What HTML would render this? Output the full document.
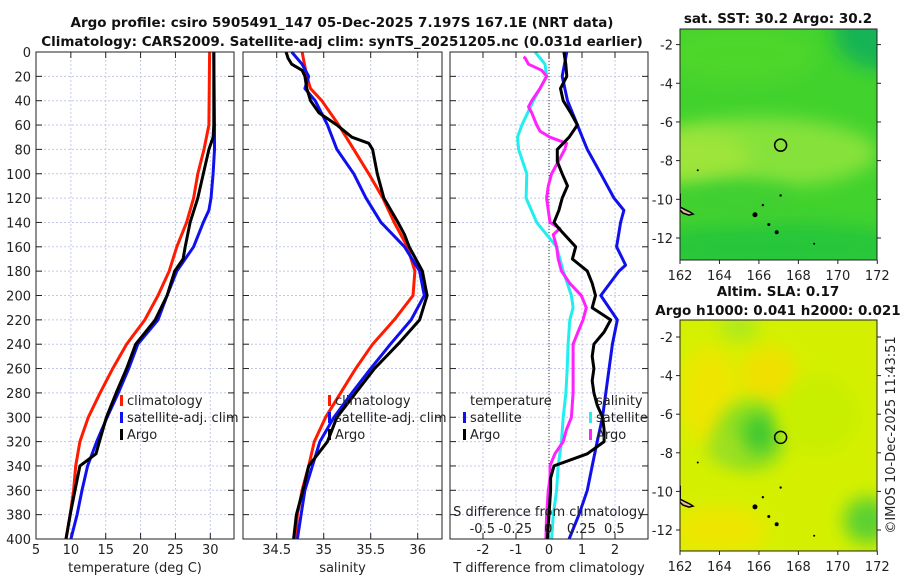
<!DOCTYPE html>
<html><head><meta charset="utf-8"><title>Argo profile</title>
<style>
html,body{margin:0;padding:0;background:#fff;}
svg{display:block;font-family:"DejaVu Sans","Liberation Sans",sans-serif;}
.t{font-size:13px;fill:#222;}
.b{font-size:13.5px;font-weight:bold;fill:#111;}
</style></head>
<body>
<svg id="fig" width="900" height="580" viewBox="0 0 900 580" xmlns="http://www.w3.org/2000/svg">
<defs>
<filter id="blur8" x="-50%" y="-50%" width="200%" height="200%"><feGaussianBlur stdDeviation="9"/></filter>
<clipPath id="clipMap1"><rect x="680" y="29" width="197" height="231"/></clipPath>
<clipPath id="clipMap2"><rect x="680" y="320" width="197" height="231"/></clipPath>
</defs>
<text class="b" x="342" y="27" text-anchor="middle">Argo profile: csiro 5905491_147 05-Dec-2025 7.197S 167.1E (NRT data)</text>
<text class="b" x="342" y="46" text-anchor="middle">Climatology: CARS2009. Satellite-adj clim: synTS_20251205.nc (0.031d earlier)</text>
<text class="b" x="778" y="23" text-anchor="middle">sat. SST: 30.2 Argo: 30.2</text>
<text class="b" x="778" y="296" text-anchor="middle">Altim. SLA: 0.17</text>
<text class="b" x="778" y="315" text-anchor="middle">Argo h1000: 0.041 h2000: 0.021</text>
<text class="t" x="0" y="0" transform="translate(895,435) rotate(-90)" text-anchor="middle">©IMOS 10-Dec-2025 11:43:51</text>
<g id="layer"></g>
</svg>
<script>
// ---------- data ----------
const depthTicks = [0,20,40,60,80,100,120,140,160,180,200,220,240,260,280,300,320,340,360,380,400];
const tempTicks = [5,10,15,20,25,30];
const salTicks = [34.5,35,35.5,36];
const salTickLabels = ["34.5","35","35.5","36"];
const tdiffTicks = [-2,-1,0,1,2];
const sdiffTicks = [-0.5,-0.25,0,0.25,0.5];
const sdiffLabels = ["-0.5","-0.25","0","0.25","0.5"];

const tClimDepth = [0,60,80,100,120,140,160,180,200,220,240,260,280,300,320,340,360,380,400];
const tClim = [29.9,29.8,29.1,28.2,27.6,26.6,25.2,24.1,22.5,20.6,18.0,16.0,14.2,12.5,11.3,10.7,10.4,9.9,9.3];
const tSatDepth = [0,60,80,100,120,130,140,160,180,200,220,240,260,280,300,320,340,360,380,400];
const tSat = [30.5,30.6,30.6,30.4,30.1,29.8,29.0,27.6,25.2,23.8,22.5,19.6,18.3,16.8,15.2,13.7,12.4,11.6,10.9,10.0];
const tArgoDepth = [0,60,70,80,100,120,140,160,170,180,200,220,240,260,280,300,320,330,340,360,380,400];
const tArgo = [30.5,30.5,30.4,29.8,29.0,28.2,27.1,26.4,26.1,24.9,23.8,22.1,19.3,18.0,16.5,15.1,14.1,13.6,11.3,10.6,9.9,9.3];

const sClimDepth = [0,20,30,40,60,80,100,120,140,160,180,200,220,240,260,280,300,320,340,360,380,400];
const sClim = [34.77,34.82,34.86,34.98,35.16,35.32,35.48,35.63,35.75,35.89,35.97,35.95,35.75,35.52,35.34,35.18,35.02,34.9,34.84,34.77,34.72,34.70];
const sSatDepth = [0,10,20,30,40,60,80,100,120,140,160,180,200,220,240,260,280,300,320,340,360,380,400];
const sSat = [34.66,34.77,34.84,34.80,34.91,35.04,35.14,35.32,35.45,35.61,35.86,36.02,36.07,35.93,35.71,35.5,35.3,35.11,34.96,34.88,34.80,34.76,34.72];
const sArgoDepth = [0,5,10,15,20,30,40,50,60,70,75,80,100,120,140,150,160,180,200,220,240,260,280,300,320,340,360,380,400];
const sArgo = [34.6,34.62,34.66,34.77,34.80,34.82,34.86,34.95,35.14,35.3,35.48,35.52,35.57,35.64,35.79,35.86,35.91,36.05,36.1,36.02,35.79,35.54,35.34,35.14,35.04,34.84,34.78,34.71,34.68];

const dTSatDepth = [0,20,40,60,70,80,100,120,130,140,160,175,180,200,220,240,260,280,300,320,340,360,380,400];
const dTSat = [0.54,0.40,0.56,0.86,1.01,1.16,1.57,1.97,2.27,2.17,2.05,2.32,2.12,1.57,2.07,1.92,1.82,1.72,1.62,1.46,1.31,1.16,0.91,0.61];
const dTArgoDepth = [0,10,20,30,40,50,60,70,80,90,100,110,120,130,140,145,160,170,180,190,200,210,220,230,240,250,260,270,280,290,300,310,320,330,340,350,360,380,400];
const dTArgo = [0.45,0.51,0.54,0.35,0.43,0.66,0.86,0.61,0.25,0.25,0.40,0.56,0.40,0.30,0.15,0.30,0.81,0.71,1.16,1.31,1.41,1.31,1.87,1.67,1.36,1.31,1.36,1.31,1.36,1.46,1.62,1.67,1.67,1.16,0.15,0.05,0.05,0,-0.05];
const dSSatDepth = [0,10,20,30,40,60,70,80,100,120,140,150,160,180,200,210,220,240,260,280,300,320,340,360,380,400];
const dSSat = [-0.10,-0.025,-0.013,-0.063,-0.113,-0.2,-0.233,-0.225,-0.163,-0.168,-0.088,-0.013,0.063,0.113,0.175,0.188,0.163,0.15,0.143,0.133,0.113,0.1,0.075,0.063,0.038,0.025];
const dSArgoDepth = [4,5,10,15,20,30,40,45,50,60,65,70,75,80,90,100,110,120,130,140,145,150,160,170,180,190,200,210,220,230,240,260,280,300,310,320,330,340,350,360,380,400];
const dSArgo = [-0.188,-0.175,-0.15,-0.05,-0.013,-0.063,-0.125,-0.15,-0.125,-0.088,-0.063,0.013,0.138,0.125,0.075,0.025,0,-0.013,0,0.013,0.088,0.038,0.063,0.075,0.1,0.163,0.25,0.288,0.263,0.225,0.188,0.188,0.188,0.175,0.138,0.113,0.05,0.013,0.013,0,-0.013,-0.018];

const lonTicks = [162,164,166,168,170,172];
const latTicks = [-2,-4,-6,-8,-10,-12];
const floatLon = [167.1];
const floatLat = [-7.2];

// ---------- helpers ----------
const NS = "http://www.w3.org/2000/svg";
const layer = document.getElementById("layer");
function mk(tag, attrs, parent) {
  const e = document.createElementNS(NS, tag);
  for (const k in attrs) e.setAttribute(k, attrs[k]);
  (parent || layer).appendChild(e);
  return e;
}
const TOP = 52, BOT = 539;
function yD(d) { return TOP + d / 400 * (BOT - TOP); }
function linX(x0, v0, x1, v1) { return v => x0 + (v - v0) / (v1 - v0) * (x1 - x0); }

const panels = [
  { name: "temperature-panel", L: 36, R: 234, x: linX(36, 5, 210.3, 30), ticks: tempTicks, labels: tempTicks.map(String), xlabel: "temperature (deg C)" },
  { name: "salinity-panel", L: 243, R: 442, x: linX(276.7, 34.5, 417.7, 36), ticks: salTicks, labels: salTickLabels, xlabel: "salinity" },
  { name: "difference-panel", L: 450, R: 648, x: linX(450, -3, 648, 3), ticks: tdiffTicks, labels: tdiffTicks.map(String), xlabel: "T difference from climatology" }
];

function path(g, depths, vals, xf, color, name) {
  let d = "";
  for (let i = 0; i < depths.length; i++) d += (i ? "L" : "M") + xf(vals[i]).toFixed(1) + "," + yD(depths[i]).toFixed(1);
  const p = mk("path", { d: d, fill: "none", stroke: color, "stroke-width": 3, "stroke-linejoin": "round" }, g);
  
  
  return p;
}
function legend(g, x, y, color, text, name) {
  const r = mk("rect", { x: x, y: y - 10, width: 3, height: 11, fill: color }, g);
  
  
  const t = mk("text", { x: x + 7, y: y, class: "t" }, g);
  t.textContent = text;
  
  
}

const series = [
  [[tClimDepth, tClim, "#ff1a00", "temp-climatology-line"], [tSatDepth, tSat, "#1010ee", "temp-satellite-line"], [tArgoDepth, tArgo, "#000", "temp-argo-line"]],
  [[sClimDepth, sClim, "#ff1a00", "sal-climatology-line"], [sSatDepth, sSat, "#1010ee", "sal-satellite-line"], [sArgoDepth, sArgo, "#000", "sal-argo-line"]],
  []
];

panels.forEach((P, pi) => {
  const g = mk("g", {});
  
  
  mk("rect", { x: P.L, y: TOP, width: P.R - P.L, height: BOT - TOP, fill: "#fff" }, g);
  depthTicks.forEach(d => {
    mk("line", { x1: P.L, x2: P.R, y1: yD(d), y2: yD(d), stroke: "#c4c8e8", "stroke-width": 1, "stroke-dasharray": "2,2" }, g);
    mk("line", { x1: P.L, x2: P.L + 6, y1: yD(d), y2: yD(d), stroke: "#222" }, g);
    mk("line", { x1: P.R - 6, x2: P.R, y1: yD(d), y2: yD(d), stroke: "#222" }, g);
    if (pi === 0) {
      const t = mk("text", { x: P.L - 5, y: yD(d) + 5, class: "t", "text-anchor": "end" }, g);
      t.textContent = d;
      
      
    }
  });
  P.ticks.forEach((v, i) => {
    const x = P.x(v);
    mk("line", { x1: x, x2: x, y1: TOP, y2: BOT, stroke: "#c4c8e8", "stroke-width": 1, "stroke-dasharray": "2,2" }, g);
    mk("line", { x1: x, x2: x, y1: BOT - 6, y2: BOT, stroke: "#222" }, g);
    mk("line", { x1: x, x2: x, y1: TOP, y2: TOP + 6, stroke: "#222" }, g);
    const t = mk("text", { x: x, y: 554, class: "t", "text-anchor": "middle" }, g);
    t.textContent = P.labels[i];
    
    
  });
  const xl = mk("text", { x: (P.L + P.R) / 2, y: 572, class: "t", "text-anchor": "middle" }, g);
  xl.textContent = P.xlabel;
  
  

  if (pi < 2) {
    series[pi].forEach(s => path(g, s[0], s[1], P.x, s[2], s[3]));
    const lx = pi === 0 ? 120 : 328;
    legend(g, lx, 405, "#ff1a00", "climatology", "legend-climatology");
    legend(g, lx, 422, "#1010ee", "satellite-adj. clim", "legend-satellite-adj");
    legend(g, lx, 439, "#000", "Argo", "legend-argo");
  } else {
    const sx = linX(548.3, 0, 614.3, 0.5);
    mk("line", { x1: P.x(0), x2: P.x(0), y1: TOP, y2: BOT, stroke: "#333", "stroke-width": 1, "stroke-dasharray": "1,2" }, g);
    path(g, dSSatDepth, dSSat, v => sx(v), "#22eeee", "sal-diff-satellite-line");
    path(g, dSArgoDepth, dSArgo, v => sx(v), "#ff22ff", "sal-diff-argo-line");
    path(g, dTSatDepth, dTSat, P.x, "#1010ee", "temp-diff-satellite-line");
    path(g, dTArgoDepth, dTArgo, P.x, "#000", "temp-diff-argo-line");
    const t1 = mk("text", { x: 470, y: 405, class: "t" }, g); t1.textContent = "temperature";
     
    const t2 = mk("text", { x: 596, y: 405, class: "t" }, g); t2.textContent = "salinity";
     
    legend(g, 463, 422, "#1010ee", "satellite", "legend-temp-satellite");
    legend(g, 463, 439, "#000", "Argo", "legend-temp-argo");
    legend(g, 589, 422, "#22eeee", "satellite", "legend-sal-satellite");
    legend(g, 589, 439, "#ff22ff", "Argo", "legend-sal-argo");
    const st = mk("text", { x: 549, y: 516, class: "t", "text-anchor": "middle" }, g);
    st.textContent = "S difference from climatology";
     
    sdiffTicks.forEach((v, i) => {
      const t = mk("text", { x: sx(v), y: 533, class: "t", "text-anchor": "middle" }, g);
      t.textContent = sdiffLabels[i];
      
      
    });
  }
  mk("rect", { x: P.L, y: TOP, width: P.R - P.L, height: BOT - TOP, fill: "none", stroke: "#222", "stroke-width": 1 }, g);
});

// ---------- maps ----------
const MAPL = 680, MAPR = 877;
const lonX = linX(680, 162, 877.3, 172);
function drawMap(top, bot, lat2y, lat12y, clip, name, blobs, base) {
  const latY = linX(lat2y, -2, lat12y, -12);
  const g = mk("g", {});
  
  
  const gc = mk("g", { "clip-path": "url(#" + clip + ")" }, g);
  mk("rect", { x: MAPL, y: top, width: MAPR - MAPL, height: bot - top, fill: base }, gc);
  blobs.forEach(b => {
    mk("ellipse", { cx: lonX(b[0]), cy: latY(b[1]), rx: b[2] * 19.7, ry: b[3] * 19.4, fill: b[4], filter: "url(#blur8)" }, gc);
  });
  mk("path", { d: `M${lonX(162)},${latY(-10.4)} l4,2 l6,3 l3,2 l-4,1 l-6,-2 l-3,-3 z`, fill: "#e8b89a", stroke: "#000", "stroke-width": 1.5 }, gc);
  mk("line", { x1: lonX(162), y1: latY(-9.7), x2: lonX(162), y2: latY(-10.4), stroke: "#000", "stroke-width": 2 }, gc);
  [[165.8,-10.8,2.5],[166.2,-10.3,1.2],[166.5,-11.3,1.5],[166.9,-11.7,2],[167.1,-9.8,1.2],[162.9,-8.5,1],[168.8,-12.3,1]].forEach(p => {
    mk("circle", { cx: lonX(p[0]), cy: latY(p[1]), r: p[2], fill: "#000" }, gc);
  });
  const c = mk("circle", { cx: lonX(floatLon[0]), cy: latY(floatLat[0]), r: 6, fill: "none", stroke: "#000", "stroke-width": 1.5 }, g);
  
  
  mk("rect", { x: MAPL, y: top, width: MAPR - MAPL, height: bot - top, fill: "none", stroke: "#222" }, g);
  lonTicks.forEach(v => {
    mk("line", { x1: lonX(v), x2: lonX(v), y1: bot, y2: bot + 4, stroke: "#222" }, g);
    const t = mk("text", { x: lonX(v), y: bot + 20, class: "t", "text-anchor": "middle" }, g);
    t.textContent = v;
    
    
  });
  latTicks.forEach(v => {
    mk("line", { x1: MAPL - 4, x2: MAPL, y1: latY(v), y2: latY(v), stroke: "#222" }, g);
    mk("line", { x1: MAPR, x2: MAPR + 4, y1: latY(v), y2: latY(v), stroke: "#222" }, g);
    const t = mk("text", { x: MAPL - 7, y: latY(v) + 5, class: "t", "text-anchor": "end" }, g);
    t.textContent = v;
    
    
  });
}
drawMap(29, 260, 44.6, 238, "clipMap1", "sst-map", [
  [172.3, -1.3, 2.5, 2, "#12b455"],
  [165, -2.5, 4, 1.5, "#4ed62c"],
  [166, -7.6, 6, 1.8, "#86e23a"],
  [163, -7.8, 2.5, 1.3, "#9ee43a"],
  [167, -12.5, 7, 1.3, "#28c63a"],
  [165, -10, 3, 1, "#40cf30"]
], "#42d22e");
drawMap(320, 551, 337, 530, "clipMap2", "sla-map", [
  [166.5, -4, 1.5, 1.5, "#f0e000"],
  [163.5, -5, 1.5, 2.5, "#eee600"],
  [164, -12, 2.5, 1.2, "#eee600"],
  [165, -1.5, 1, 0.6, "#a8e820"],
  [165.6, -7.1, 1.8, 1.8, "#8ade22"],
  [164.6, -7.8, 1.2, 0.8, "#9ee020"],
  [166, -7, 0.8, 1, "#3cc830"],
  [171.5, -11.5, 1.2, 1.2, "#5cd030"],
  [169, -6, 2, 2, "#c8ee00"]
], "#d4f000");
</script>
</body></html>
